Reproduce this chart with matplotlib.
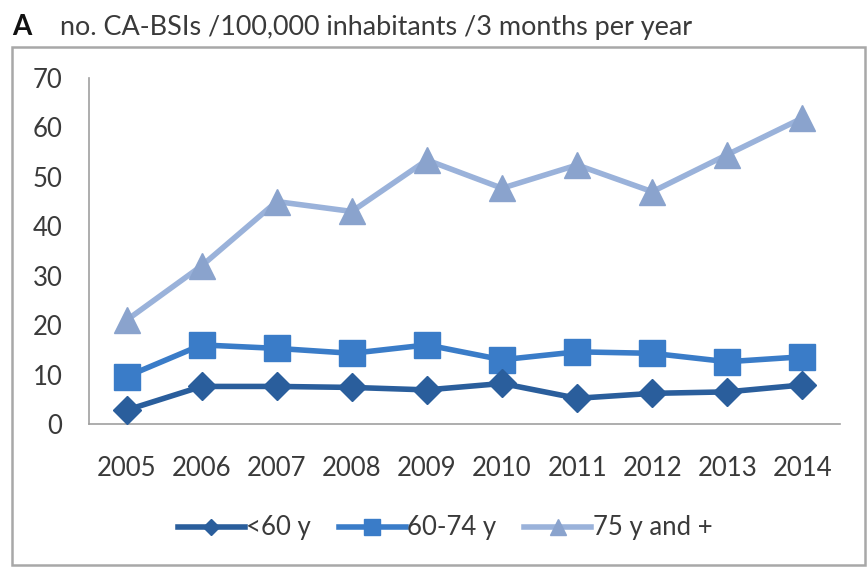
import matplotlib
matplotlib.use("Agg")
import matplotlib.pyplot as plt
from matplotlib.patches import Rectangle

## values
years = ["2005", "2006", "2007", "2008", "2009", "2010", "2011", "2012", "2013", "2014"]
under60 = [2.8, 7.6, 7.6, 7.4, 6.9, 8.2, 5.2, 6.2, 6.5, 7.9]
age60_74 = [9.6, 16.0, 15.3, 14.3, 16.0, 13.0, 14.6, 14.3, 12.6, 13.6]
age75plus = [21.0, 32.0, 45.0, 43.0, 53.4, 47.7, 52.4, 47.0, 54.5, 61.9]

series_labels = ["<60 y", "60-74 y", "75 y and +"]
yticks = [0, 10, 20, 30, 40, 50, 60, 70]
title = "no. CA-BSIs /100,000 inhabitants /3 months per year"

plt.rcParams["font.family"] = ["Lato", "DejaVu Sans"]

fig = plt.figure(figsize=(8.68, 5.67), dpi=100)
W, H = 868.0, 567.0
TXT = "#3a3a3a"

## grey frame around the chart area
fig.patches.append(Rectangle((12 / W, 2 / H), 853 / W, (565 - 47) / H,
                             transform=fig.transFigure, fill=False,
                             edgecolor="#a8a8a8", linewidth=1.8))

ax = fig.add_axes([89 / W, 1 - 424 / H, (840 - 89) / W, (424 - 78) / H])

x = list(range(len(years)))
ax.plot(x, under60, color="#2a5e9c", linewidth=4, marker="D", markersize=14,
        label=series_labels[0], zorder=3)
ax.plot(x, age60_74, color="#3a7cc8", linewidth=4, marker="s", markersize=19,
        label=series_labels[1], zorder=2)
ax.plot(x, age75plus, color="#9ab2da", linewidth=4, marker="^", markersize=19,
        markerfacecolor="#8aa3cd", markeredgecolor="#8aa3cd",
        label=series_labels[2], zorder=1)

ax.set_xlim(-0.5, len(years) - 0.5)
ax.set_ylim(0, 70)
ax.set_xticks(x)
ax.set_xticklabels(years)
ax.set_yticks(yticks)

for s in ["top", "right"]:
    ax.spines[s].set_visible(False)
for s in ["left", "bottom"]:
    ax.spines[s].set_color("#a0a0a0")
    ax.spines[s].set_linewidth(1.2)

ax.tick_params(axis="both", length=0, labelsize=18.5, colors=TXT)
ax.tick_params(axis="x", pad=23)
ax.tick_params(axis="y", pad=19)

leg = fig.legend(loc="center", bbox_to_anchor=(445 / W, 1 - 528 / H),
                 ncol=3, frameon=False, fontsize=18.5, handlelength=2.6,
                 handletextpad=0.05, columnspacing=1.1, markerscale=0.6,
                 borderaxespad=0, borderpad=0)
for t in leg.get_texts():
    t.set_color(TXT)

fig.text(12 / W, 1 - 27 / H, "A", fontsize=20, fontweight="bold", va="center", ha="left",
         color="#111111")
t = fig.text(60 / W, 1 - 28 / H, title, fontsize=18, va="center", ha="left", color=TXT)

## fit title width to the reference (about 632 px)
r = fig.canvas.get_renderer()
w = t.get_window_extent(r).width
t.set_fontsize(18 * 632.0 / w)

fig.savefig("out.png", dpi=100)
